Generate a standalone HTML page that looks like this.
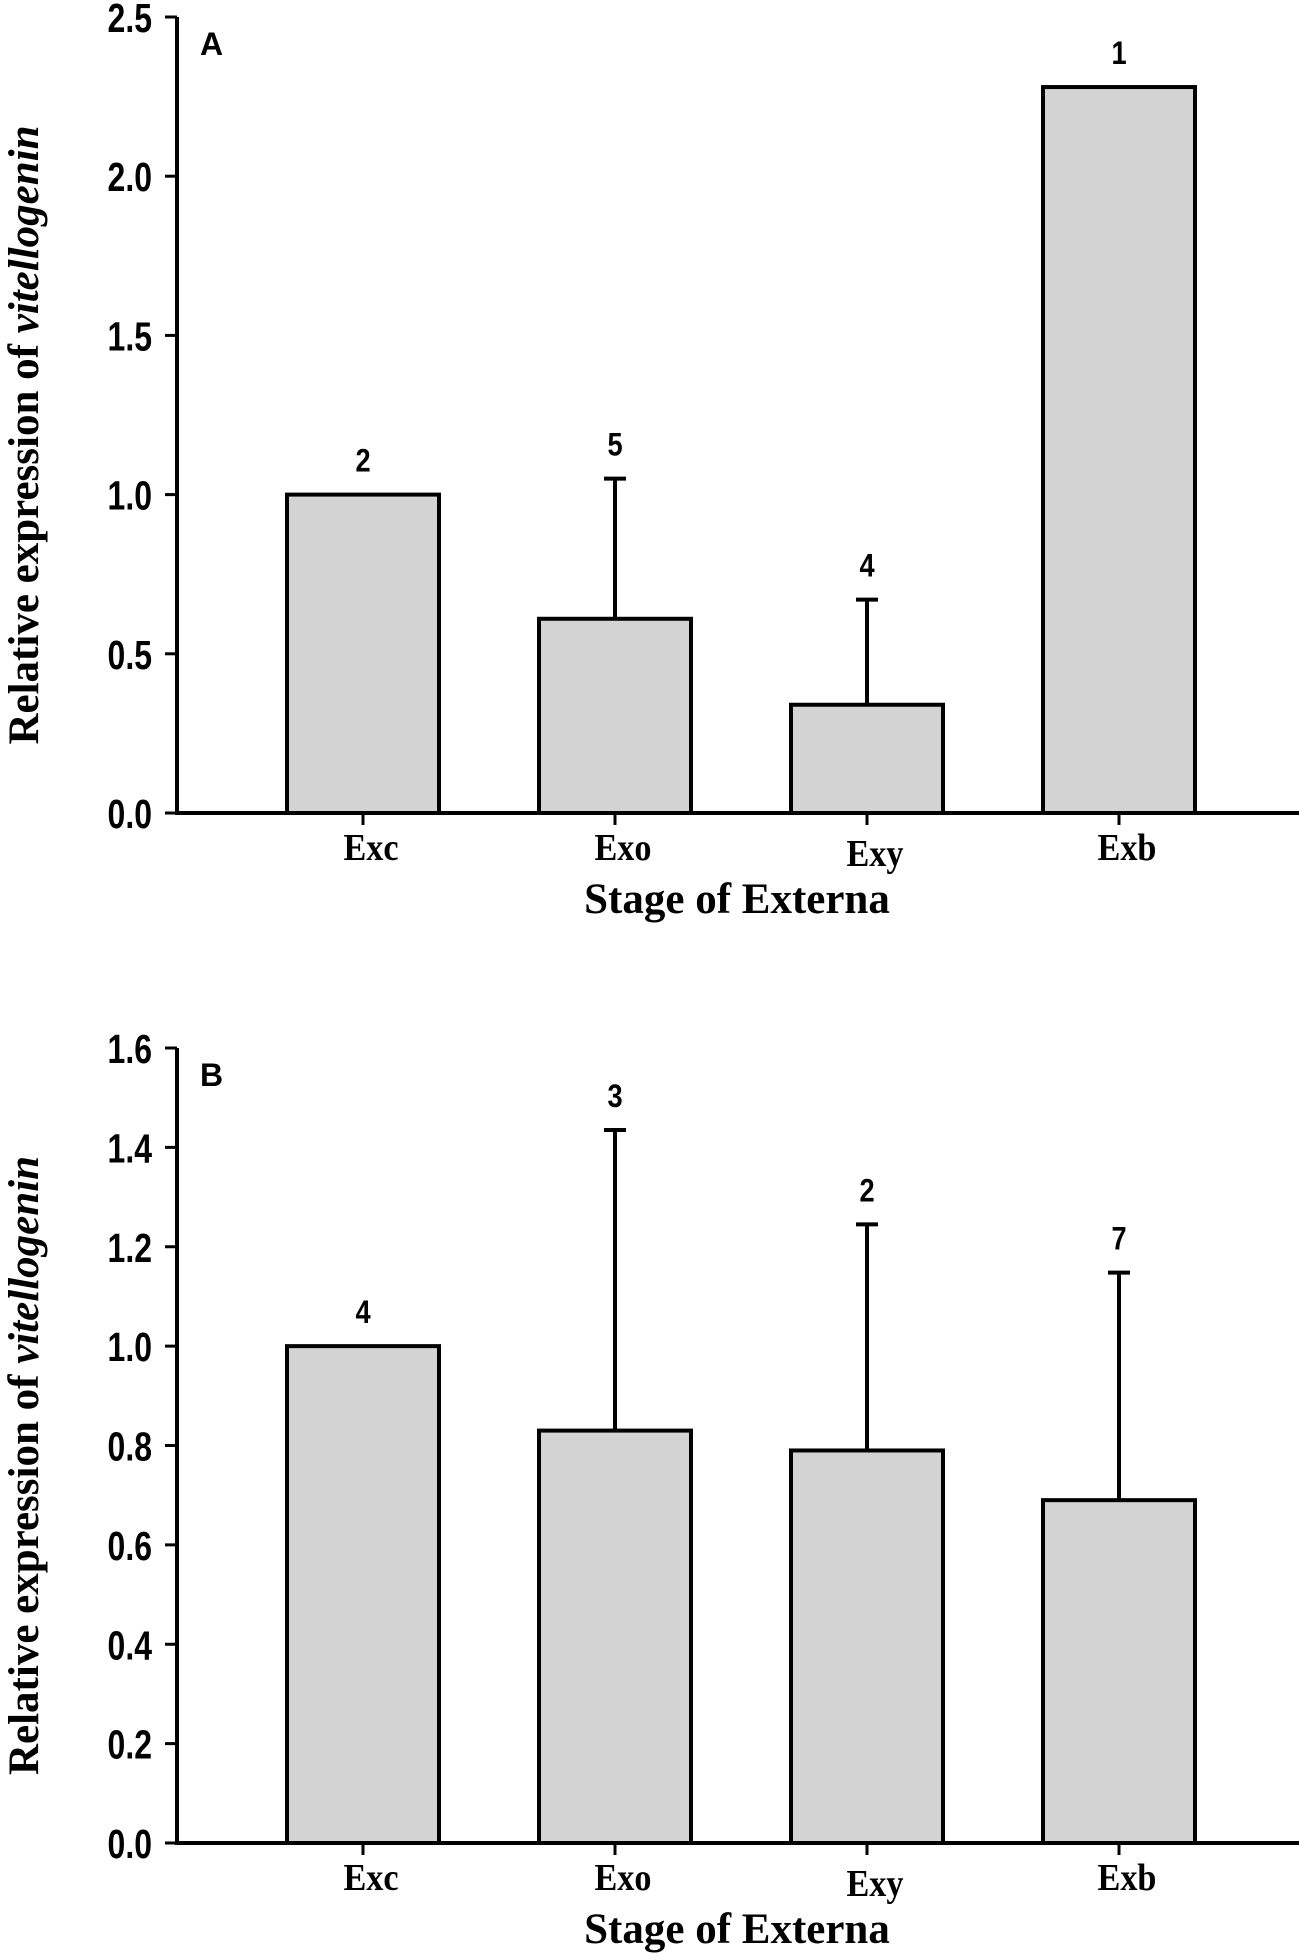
<!DOCTYPE html>
<html><head><meta charset="utf-8"><style>
html,body{margin:0;padding:0;background:#fff;}
svg{display:block;}
.tick{font-family:"Liberation Sans",sans-serif;font-weight:bold;font-size:41px;}
.cat{font-family:"Liberation Serif",serif;font-weight:bold;font-size:38px;}
.ttl{font-family:"Liberation Serif",serif;font-weight:bold;font-size:43px;}
.num{font-family:"Liberation Sans",sans-serif;font-weight:bold;font-size:32px;}
</style></head><body>
<svg id="chart" width="1299" height="1954" viewBox="0 0 1299 1954" xmlns="http://www.w3.org/2000/svg"></svg>
<script>
const categories = ["Exc","Exo","Exy","Exb"];
const valuesA = [1.0, 0.61, 0.34, 2.28];
const errTopA = [null, 1.05, 0.67, null];
const countsA = ["2","5","4","1"];
const ticksA = ["0.0","0.5","1.0","1.5","2.0","2.5"];
const valuesB = [1.0, 0.83, 0.79, 0.69];
const errTopB = [null, 1.435, 1.245, 1.148];
const countsB = ["4","3","2","7"];
const ticksB = ["0.0","0.2","0.4","0.6","0.8","1.0","1.2","1.4","1.6"];

const svg = document.getElementById('chart');
const NS = "http://www.w3.org/2000/svg";
function mk(tag, attrs, parent){const e=document.createElementNS(NS,tag);for(const k in attrs)e.setAttribute(k,attrs[k]);(parent||svg).appendChild(e);return e;}

function panel(p){
  const g = mk('g',{});
  
  
  const axX = 177, axEnd = 1299;
  const maxV = parseFloat(p.ticks[p.ticks.length-1]);
  const y = v => p.y0 - (v/maxV)*(p.y0-p.yTop);
  const xc = i => 363 + i*252;
  const bw = 152;
  categories.forEach((c,i)=>{
    const r = mk('rect',{x:xc(i)-bw/2,y:y(p.values[i]),width:bw,height:p.y0-y(p.values[i]),fill:'#d3d3d3',stroke:'#000','stroke-width':4},g);
    
    
    let top = y(p.values[i]);
    if(p.err[i]!==null){
      const e = mk('path',{d:`M${xc(i)} ${y(p.values[i])}V${y(p.err[i])}M${xc(i)-11} ${y(p.err[i])}H${xc(i)+11}`,stroke:'#000','stroke-width':4,fill:'none'},g);
      
      
      top = y(p.err[i]);
    }
    const n = mk('text',{x:0,y:0,'text-anchor':'middle',class:'num',transform:`translate(${xc(i)} ${top-23}) scale(0.85 1)`},g);
    n.textContent = p.counts[i];
    
    
    mk('line',{x1:xc(i),x2:xc(i),y1:p.y0,y2:p.y0+12,stroke:'#000','stroke-width':3},g);
    const cl = mk('text',{x:0,y:0,'text-anchor':'middle',class:'cat',transform:`translate(${xc(i)+8} ${p.y0+47+(c==='Exy'?6:0)}) scale(0.9 1)`},g);
    cl.textContent = c;
    
    
  });
  const ax = mk('path',{d:`M${axX} ${p.yTop}V${p.y0}H${axEnd}`,stroke:'#000','stroke-width':4,fill:'none'},g);
  
  
  p.ticks.forEach(t=>{
    const v = parseFloat(t);
    mk('line',{x1:axX-12,x2:axX,y1:y(v),y2:y(v),stroke:'#000','stroke-width':3},g);
    const tl = mk('text',{x:0,y:0,'text-anchor':'end',class:'tick',transform:`translate(152 ${y(v)+15}) scale(0.78 1)`},g);
    tl.textContent = t;
    
    
  });
  const L = mk('text',{x:200,y:p.yTop+38,class:'num','font-size':24},g);
  L.textContent = p.letter;
  
  
  const xt = mk('text',{x:737,y:p.y0+100,'text-anchor':'middle',class:'ttl'},g);
  xt.textContent = 'Stage of Externa';
  
  
  const cy = (p.y0+p.yTop)/2 + 20;
  const yt = mk('text',{x:0,y:0,'text-anchor':'middle',class:'ttl',transform:`translate(38 ${cy}) rotate(-90)`},g);
  
  
  const s1 = mk('tspan',{},yt); s1.textContent = 'Relative expression of ';
  const s2 = mk('tspan',{'font-style':'italic'},yt); s2.textContent = 'vitellogenin';
}
panel({letter:'A',values:valuesA,err:errTopA,counts:countsA,ticks:ticksA,y0:813,yTop:17});
panel({letter:'B',values:valuesB,err:errTopB,counts:countsB,ticks:ticksB,y0:1843,yTop:1048});
</script>
</body></html>
